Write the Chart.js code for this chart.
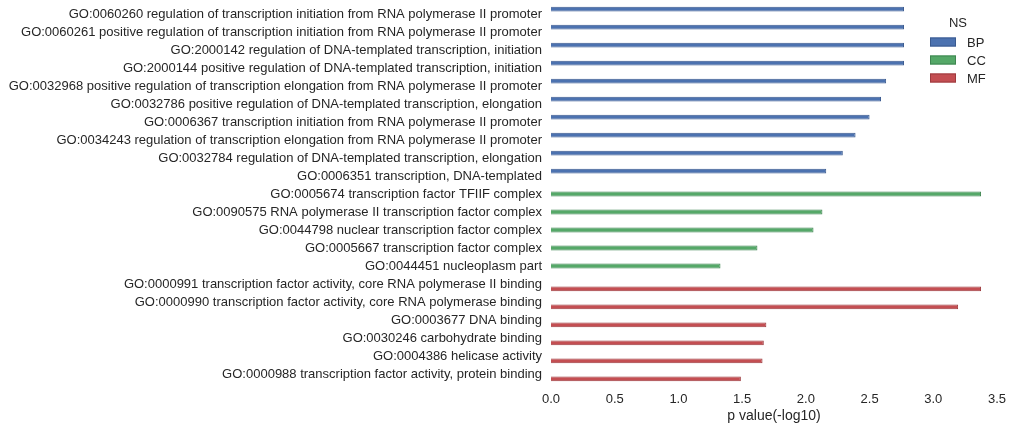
<!DOCTYPE html>
<html>
<head>
<meta charset="utf-8">
<script src="https://cdn.jsdelivr.net/npm/chart.js@4.4.1/dist/chart.umd.min.js"></script>
<style>
  html, body { margin: 0; padding: 0; background: #fff; }
  #wrap { width: 1013px; height: 431px; position: relative; }
</style>
</head>
<body>
<div id="wrap"><canvas id="goChart"></canvas></div>
<script>
// GO terms, top to bottom
const terms = [
  'GO:0060260 regulation of transcription initiation from RNA polymerase II promoter',
  'GO:0060261 positive regulation of transcription initiation from RNA polymerase II promoter',
  'GO:2000142 regulation of DNA-templated transcription, initiation',
  'GO:2000144 positive regulation of DNA-templated transcription, initiation',
  'GO:0032968 positive regulation of transcription elongation from RNA polymerase II promoter',
  'GO:0032786 positive regulation of DNA-templated transcription, elongation',
  'GO:0006367 transcription initiation from RNA polymerase II promoter',
  'GO:0034243 regulation of transcription elongation from RNA polymerase II promoter',
  'GO:0032784 regulation of DNA-templated transcription, elongation',
  'GO:0006351 transcription, DNA-templated',
  'GO:0005674 transcription factor TFIIF complex',
  'GO:0090575 RNA polymerase II transcription factor complex',
  'GO:0044798 nuclear transcription factor complex',
  'GO:0005667 transcription factor complex',
  'GO:0044451 nucleoplasm part',
  'GO:0000991 transcription factor activity, core RNA polymerase II binding',
  'GO:0000990 transcription factor activity, core RNA polymerase binding',
  'GO:0003677 DNA binding',
  'GO:0030246 carbohydrate binding',
  'GO:0004386 helicase activity',
  'GO:0000988 transcription factor activity, protein binding'
];

const namespaces = [
  'BP', 'BP', 'BP', 'BP', 'BP', 'BP', 'BP', 'BP', 'BP', 'BP',
  'CC', 'CC', 'CC', 'CC', 'CC',
  'MF', 'MF', 'MF', 'MF', 'MF', 'MF'
];

const pValues = [
  2.77, 2.77, 2.77, 2.77, 2.63, 2.59, 2.50, 2.39, 2.29, 2.16,
  3.375, 2.13, 2.06, 1.62, 1.33,
  3.375, 3.195, 1.69, 1.67, 1.66, 1.49
];

const nsNames = ['BP', 'CC', 'MF'];
const nsColors = ['#4C72B0', '#55A868', '#C44E52'];
const nsEdges = ['#3a5a8f', '#3f8550', '#9c3a3e'];

const xTicks = [0, 0.5, 1.0, 1.5, 2.0, 2.5, 3.0, 3.5];

const textColor = '#262626';
const fontFamily = '"Liberation Sans", Arial, sans-serif';

const datasets = nsNames.map((ns, k) => ({
  label: ns,
  data: pValues.map((v, i) => namespaces[i] === ns ? v : null),
  backgroundColor: nsColors[k],
  borderColor: nsEdges[k],
  borderWidth: 1,
  categoryPercentage: 0.8,
  barPercentage: 1.0
}));

// matplotlib-style legend inside the axes, top right
const nsLegend = {
  id: 'nsLegend',
  afterDraw(chart) {
    const ctx = chart.ctx;
    const x0 = 930;
    ctx.save();
    ctx.font = '13px ' + fontFamily;
    ctx.fillStyle = textColor;
    ctx.textAlign = 'center';
    ctx.textBaseline = 'middle';
    ctx.fillText('NS', 958, 23);
    ctx.textAlign = 'left';
    chart.data.datasets.forEach((ds, k) => {
      const cy = 42 + k * 18;
      ctx.fillStyle = ds.backgroundColor;
      ctx.strokeStyle = ds.borderColor;
      ctx.lineWidth = 1;
      ctx.fillRect(x0, cy - 4.5, 26, 9);
      ctx.strokeRect(x0 + 0.5, cy - 4, 25, 8);
      ctx.fillStyle = textColor;
      ctx.fillText(ds.label, 967, cy + 1);
    });
    ctx.restore();
  }
};

new Chart(document.getElementById('goChart').getContext('2d'), {
  type: 'bar',
  data: { labels: terms, datasets: datasets },
  options: {
    indexAxis: 'y',
    responsive: true,
    maintainAspectRatio: false,
    animation: false,
    layout: { padding: { top: 5, right: 16, left: 0, bottom: 0 } },
    plugins: {
      legend: { display: false },
      tooltip: { enabled: false }
    },
    scales: {
      x: {
        type: 'linear',
        min: 0,
        max: 3.5,
        afterBuildTicks(axis) {
          axis.ticks = xTicks.map(v => ({ value: v }));
        },
        afterFit(axis) {
          axis.height = 48;
          axis.paddingLeft = 0;
          axis.paddingRight = 0;
        },
        grid: { display: false, drawTicks: false },
        border: { display: false },
        ticks: {
          color: textColor,
          padding: 9,
          font: { family: fontFamily, size: 13 },
          callback: v => v.toFixed(1)
        },
        title: {
          display: true,
          text: 'p value(-log10)',
          color: textColor,
          padding: { top: 0, bottom: 6 },
          font: { family: fontFamily, size: 14 }
        }
      },
      y: {
        afterFit(axis) {
          axis.width = 551;
          axis.paddingTop = 0;
          axis.paddingBottom = 0;
        },
        grid: { display: false, drawTicks: false },
        border: { display: false },
        ticks: {
          color: textColor,
          padding: 9,
          autoSkip: false,
          font: { family: fontFamily, size: 13 }
        }
      }
    }
  },
  plugins: [nsLegend]
});
</script>
</body>
</html>
